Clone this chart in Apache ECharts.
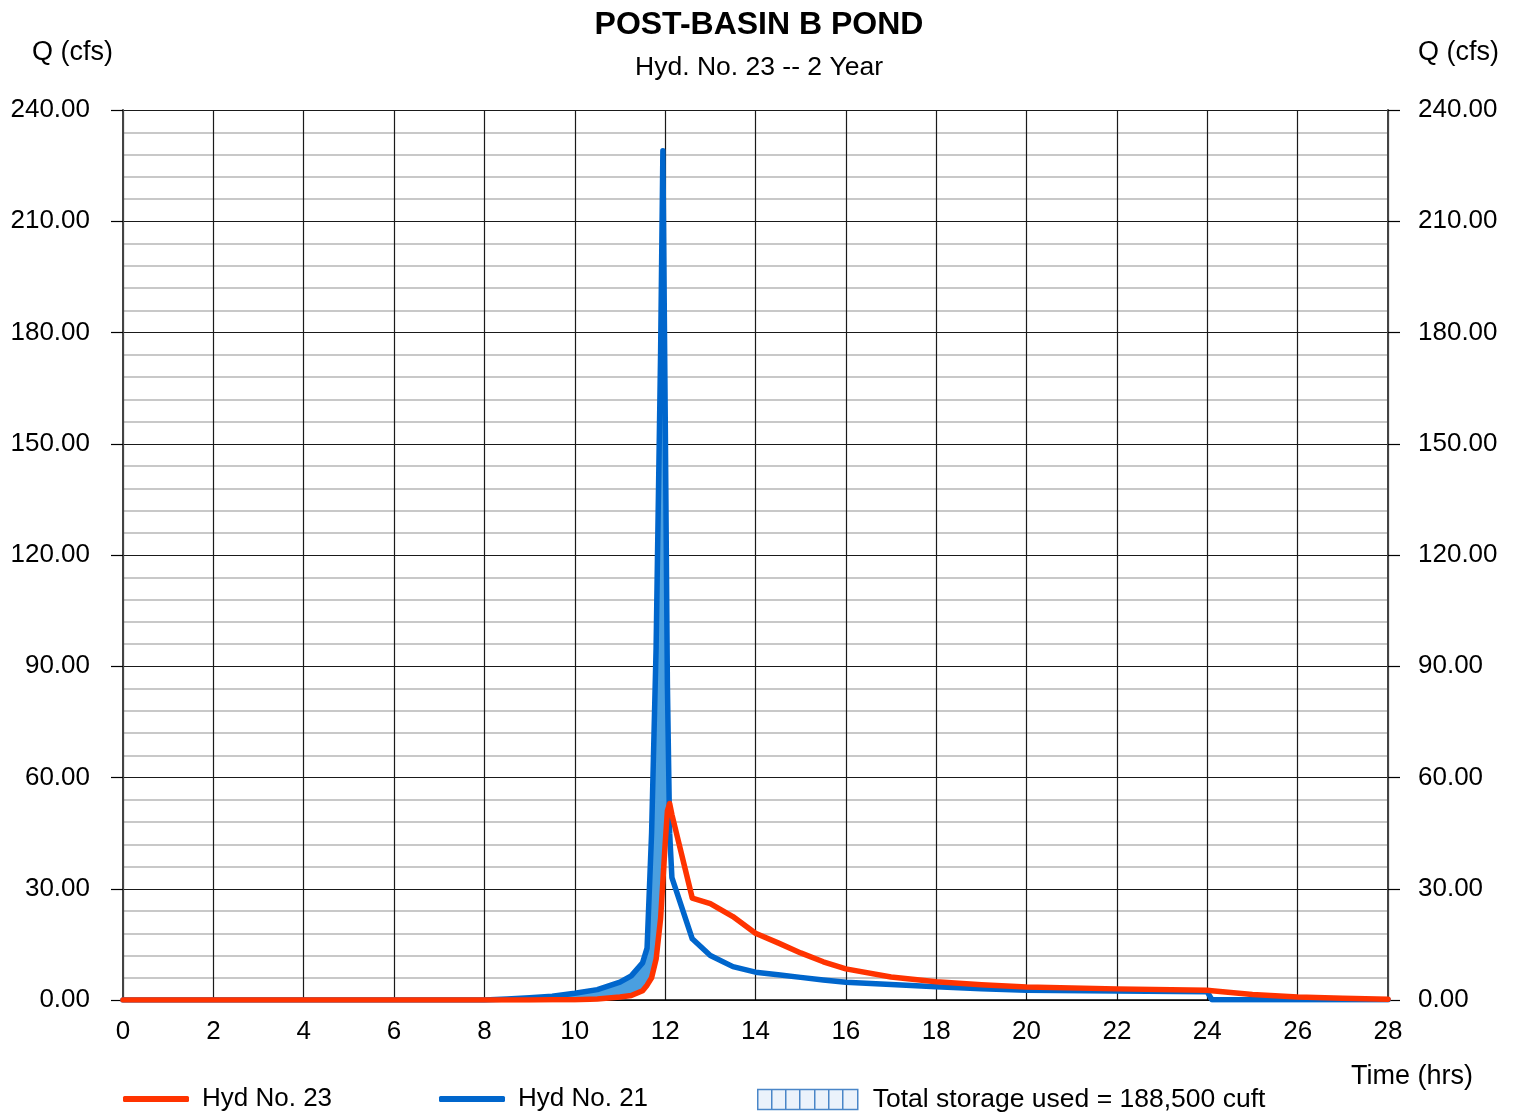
<!DOCTYPE html>
<html>
<head>
<meta charset="utf-8">
<script src="https://cdn.jsdelivr.net/npm/echarts@6/dist/echarts.min.js"></script>
<style>
  html, body { margin: 0; padding: 0; background: #ffffff; }
  #chart { width: 1518px; height: 1112px; }
</style>
</head>
<body>
<div id="chart"></div>
<script>
// hydrograph time steps (hrs)
const timeHrs = [0, 2, 4, 6, 8, 8.5, 9, 9.5, 10, 10.5, 11, 11.25, 11.5, 11.6, 11.7, 11.8, 11.9, 11.95,
  12.0, 12.05, 12.1, 12.15, 12.6, 13.0, 13.5, 14, 14.5, 15, 15.5, 16, 17, 18, 19, 20, 22, 24, 24.1, 25, 26, 27, 28];

// Hyd No. 21 - inflow (cfs)
const hyd21 = [0, 0, 0, 0, 0, 0.3, 0.6, 1.0, 1.8, 2.8, 4.8, 6.5, 10, 14, 45, 95, 175, 229,
  160, 85, 45, 33, 16.5, 12, 9, 7.5, 6.8, 6.1, 5.4, 4.8, 4.2, 3.6, 3.0, 2.6, 2.4, 2.2, 0.1, 0.1, 0.1, 0.1, 0.1];

// Hyd No. 23 - outflow (cfs)
const hyd23 = [0, 0, 0, 0, 0, 0, 0, 0.05, 0.1, 0.3, 0.8, 1.2, 2.5, 4, 6, 11, 22, 32,
  42, 51, 53, 50, 27.5, 26, 22.5, 18, 15.4, 12.7, 10.3, 8.4, 6.2, 4.9, 4.1, 3.5, 3.0, 2.6, 2.5, 1.5, 0.8, 0.5, 0.2];

const storageLabel = 'Total storage used = 188,500 cuft';

const font = 'Liberation Sans, Arial, sans-serif';

const pairs = (ys) => timeHrs.map((t, i) => [t, ys[i]]);
// storage = area between inflow (top) and outflow (bottom) where inflow is higher
const storageRows = timeHrs.map((t, i) => [t, hyd23[i], Math.max(hyd21[i], hyd23[i])]);

const labelStyle = { fontFamily: font, fontSize: 26, color: '#000000' };

const chart = echarts.init(document.getElementById('chart'));

function renderStorage(params, api) {
  if (params.dataIndex !== 0) return null;
  const top = storageRows.map(r => api.coord([r[0], r[2]]));
  const bottom = storageRows.map(r => api.coord([r[0], r[1]])).reverse();
  return {
    type: 'polygon',
    shape: { points: top.concat(bottom) },
    style: { fill: '#4a9fe0' }
  };
}

const option = {
  backgroundColor: '#ffffff',
  animation: false,
  title: [
    {
      text: 'POST-BASIN B POND',
      subtext: 'Hyd. No. 23 -- 2 Year',
      left: 'center',
      top: 4,
      itemGap: 13,
      textStyle: { fontFamily: font, fontSize: 32, fontWeight: 'bold', color: '#000000' },
      subtextStyle: { fontFamily: font, fontSize: 26.5, color: '#000000' }
    },
    { text: 'Q (cfs)', left: 27, top: 34, textStyle: { ...labelStyle, fontSize: 27, fontWeight: 'normal' } },
    { text: 'Q (cfs)', right: 14, top: 34, textStyle: { ...labelStyle, fontSize: 27, fontWeight: 'normal' } },
    { text: 'Time (hrs)', right: 40, top: 1058, textStyle: { ...labelStyle, fontSize: 27, fontWeight: 'normal' } }
  ],
  legend: [
    {
      data: ['Hyd No. 23'],
      left: 118, top: 1081,
      icon: 'roundRect', itemWidth: 66, itemHeight: 6,
      textStyle: { ...labelStyle, padding: [0, 0, 0, 8] }
    },
    {
      data: ['Hyd No. 21'],
      left: 434, top: 1081,
      icon: 'roundRect', itemWidth: 66, itemHeight: 6,
      textStyle: { ...labelStyle, padding: [0, 0, 0, 8] }
    },
    {
      data: [{
        name: storageLabel,
        icon: 'path://M0,0L100,0L100,20L0,20Z M14,0L14,20 M28,0L28,20 M42,0L42,20 M57,0L57,20 M71,0L71,20 M85,0L85,20',
        itemStyle: { color: 'rgba(120,170,225,0.15)', borderColor: '#4a86c8', borderWidth: 1.5 }
      }],
      left: 752, top: 1081,
      itemWidth: 100, itemHeight: 20,
      textStyle: { ...labelStyle, fontSize: 26.5, padding: [0, 0, 0, 10] }
    }
  ],
  grid: { left: 123, right: 130, top: 110, bottom: 112 },
  xAxis: {
    type: 'value',
    min: 0, max: 28, interval: 2,
    axisLine: { show: true, lineStyle: { color: '#000000', width: 1.5 } },
    axisTick: { show: false },
    axisLabel: { ...labelStyle, margin: 19 },
    splitLine: { show: true, lineStyle: { color: '#1a1a1a', width: 1.2 } }
  },
  yAxis: [
    {
      type: 'value',
      position: 'left',
      min: 0, max: 240, interval: 30,
      axisLine: { show: true, lineStyle: { color: '#444444', width: 2 } },
      axisTick: { show: true, length: 12, lineStyle: { color: '#000000', width: 1.2 } },
      axisLabel: { ...labelStyle, margin: 33, formatter: (v) => v.toFixed(2) },
      splitLine: { show: true, lineStyle: { color: '#1a1a1a', width: 1.2 } },
      minorTick: { show: false, splitNumber: 5 },
      minorSplitLine: { show: true, lineStyle: { color: '#c8c8c8', width: 2 } }
    },
    {
      type: 'value',
      position: 'right',
      min: 0, max: 240, interval: 30,
      axisLine: { show: true, lineStyle: { color: '#444444', width: 2 } },
      axisTick: { show: true, length: 12, lineStyle: { color: '#000000', width: 1.2 } },
      axisLabel: { ...labelStyle, margin: 30, formatter: (v) => v.toFixed(2) },
      splitLine: { show: false }
    }
  ],
  series: [
    {
      name: storageLabel,
      type: 'custom',
      data: storageRows,
      renderItem: renderStorage,
      itemStyle: { color: '#4a9fe0' },
      silent: true,
      z: 2
    },
    {
      name: 'Hyd No. 21',
      type: 'line',
      data: pairs(hyd21),
      showSymbol: false,
      symbol: 'none',
      itemStyle: { color: '#0066cc' },
      lineStyle: { color: '#0066cc', width: 5.5, cap: 'round', join: 'round' },
      z: 3
    },
    {
      name: 'Hyd No. 23',
      type: 'line',
      data: pairs(hyd23),
      showSymbol: false,
      symbol: 'none',
      itemStyle: { color: '#ff3300' },
      lineStyle: { color: '#ff3300', width: 5.5, cap: 'round', join: 'round' },
      z: 4
    }
  ]
};

chart.setOption(option);
</script>
</body>
</html>
